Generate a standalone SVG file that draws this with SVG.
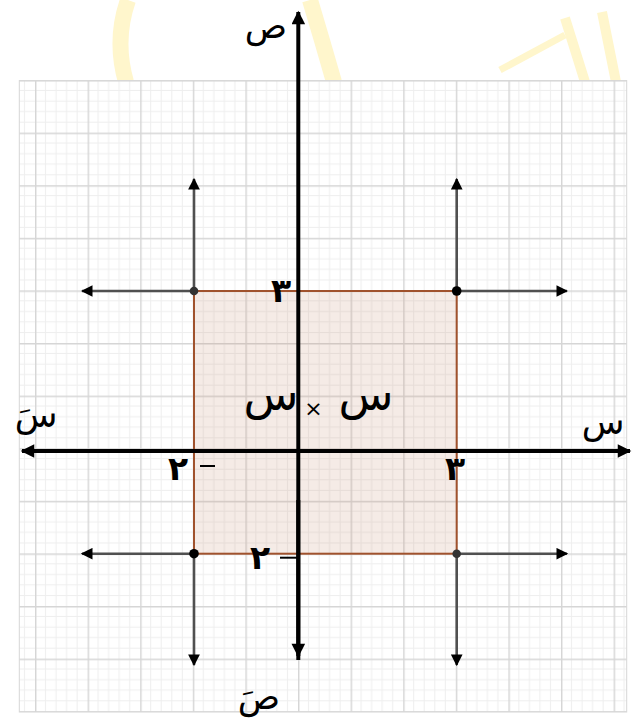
<svg xmlns="http://www.w3.org/2000/svg" width="632" height="721" viewBox="0 0 632 721">
<style>
.ar{font-family:"DejaVu Sans","Noto Sans",sans-serif;fill:#000}
.lbl{font-size:35px}
.big{font-size:45px}
.num{font-size:33px;font-weight:bold}
.axis{stroke:#000;stroke-width:4;fill:none}
.ray{stroke:#505050;stroke-width:2.6;fill:none}
.minus{stroke:#000;stroke-width:2}
</style>
<defs>
<pattern id="grid" patternUnits="userSpaceOnUse" x="35" y="80" width="52.6" height="52.6">
<path d="M10.52 0V52.6M21.04 0V52.6M31.56 0V52.6M42.08 0V52.6M0 10.52H52.6M0 21.04H52.6M0 31.56H52.6M0 42.08H52.6" stroke="#eeeeee" stroke-width="1"/>
<path d="M0.7 0V52.6M0 0.7H52.6" stroke="#d6d6d6" stroke-width="1.5"/>
</pattern>
<marker id="ah" viewBox="0 0 10 10" refX="9" refY="5" markerWidth="4.5" markerHeight="4.5" orient="auto" markerUnits="strokeWidth"><path d="M0 0L10 5L0 10z" fill="#000"/></marker>
<marker id="ahBig" viewBox="0 0 10 10" refX="9" refY="5" markerWidth="4.2" markerHeight="3.4" orient="auto" markerUnits="strokeWidth"><path d="M0 0L10 5L0 10z" fill="#000"/></marker>
</defs>
<g id="watermark" fill="none" stroke="#fff6cc" stroke-width="16">
<path d="M128 0Q114 40 126 82"/>
<path d="M310 0Q322 40 334 82"/>
<path d="M565 18L585 82M602 12L616 82" stroke-width="10"/>
<path d="M500 70L565 35" stroke-width="7"/>
</g>
<g id="grid-bg"><rect x="19.3" y="80.6" width="607.4" height="631.4" fill="#fff"/><rect x="19.3" y="80.6" width="607.4" height="631.4" fill="url(#grid)" stroke="#d6d6d6" stroke-width="1"/></g>
<g id="region"><rect x="194" y="291" width="262.7" height="262.7" fill="rgba(190,130,100,0.16)" stroke="#a0522d" stroke-width="2"/></g>
<g id="connectors">
<line class="axis" x1="298.3" y1="660" x2="298.3" y2="12" marker-end="url(#ahBig)"/>
<line class="axis" x1="298.3" y1="500" x2="298.3" y2="656" marker-end="url(#ahBig)"/>
<line class="axis" x1="300" y1="451" x2="22" y2="451" marker-end="url(#ahBig)"/>
<line class="axis" x1="296" y1="451" x2="630" y2="451" marker-end="url(#ahBig)"/>
<line class="ray" x1="194" y1="291" x2="194" y2="179" marker-end="url(#ah)"/>
<line class="ray" x1="194" y1="291" x2="82" y2="291" marker-end="url(#ah)"/>
<line class="ray" x1="456.7" y1="291" x2="456.7" y2="179" marker-end="url(#ah)"/>
<line class="ray" x1="456.7" y1="291" x2="567" y2="291" marker-end="url(#ah)"/>
<line class="ray" x1="194" y1="553.7" x2="82" y2="553.7" marker-end="url(#ah)"/>
<line class="ray" x1="194" y1="553.7" x2="194" y2="665" marker-end="url(#ah)"/>
<line class="ray" x1="456.7" y1="553.7" x2="567" y2="553.7" marker-end="url(#ah)"/>
<line class="ray" x1="456.7" y1="553.7" x2="456.7" y2="665" marker-end="url(#ah)"/>
</g>
<g id="points">
<circle cx="194" cy="291" r="4.3" fill="#333"/>
<circle cx="456.7" cy="291" r="4.8" fill="#000"/>
<circle cx="194" cy="553.7" r="4.8" fill="#000"/>
<circle cx="456.7" cy="553.7" r="4.3" fill="#333"/>
</g>
<g id="labels" class="ar">
<text class="lbl" x="266" y="38" text-anchor="middle">ص</text>
<text class="lbl" x="36" y="427" text-anchor="middle">سَ</text>
<text class="lbl" x="603" y="434" text-anchor="middle">س</text>
<text class="lbl" x="259" y="709" text-anchor="middle">صَ</text>
<text class="num" x="281" y="302" text-anchor="middle">٣</text>
<text class="num" x="455" y="480" text-anchor="middle">٣</text>
<text class="num" x="260" y="569" text-anchor="middle">٢</text>
<line class="minus" x1="280" y1="557.7" x2="297" y2="557.7"/>
<text class="num" x="178" y="480" text-anchor="middle">٢</text>
<line class="minus" x1="200" y1="466" x2="215" y2="466"/>
<text class="big" x="271" y="410" text-anchor="middle">س</text>
<text x="313.5" y="416" text-anchor="middle" style="font-size:22px">×</text>
<text class="big" x="366" y="410" text-anchor="middle">س</text>
</g>
</svg>
